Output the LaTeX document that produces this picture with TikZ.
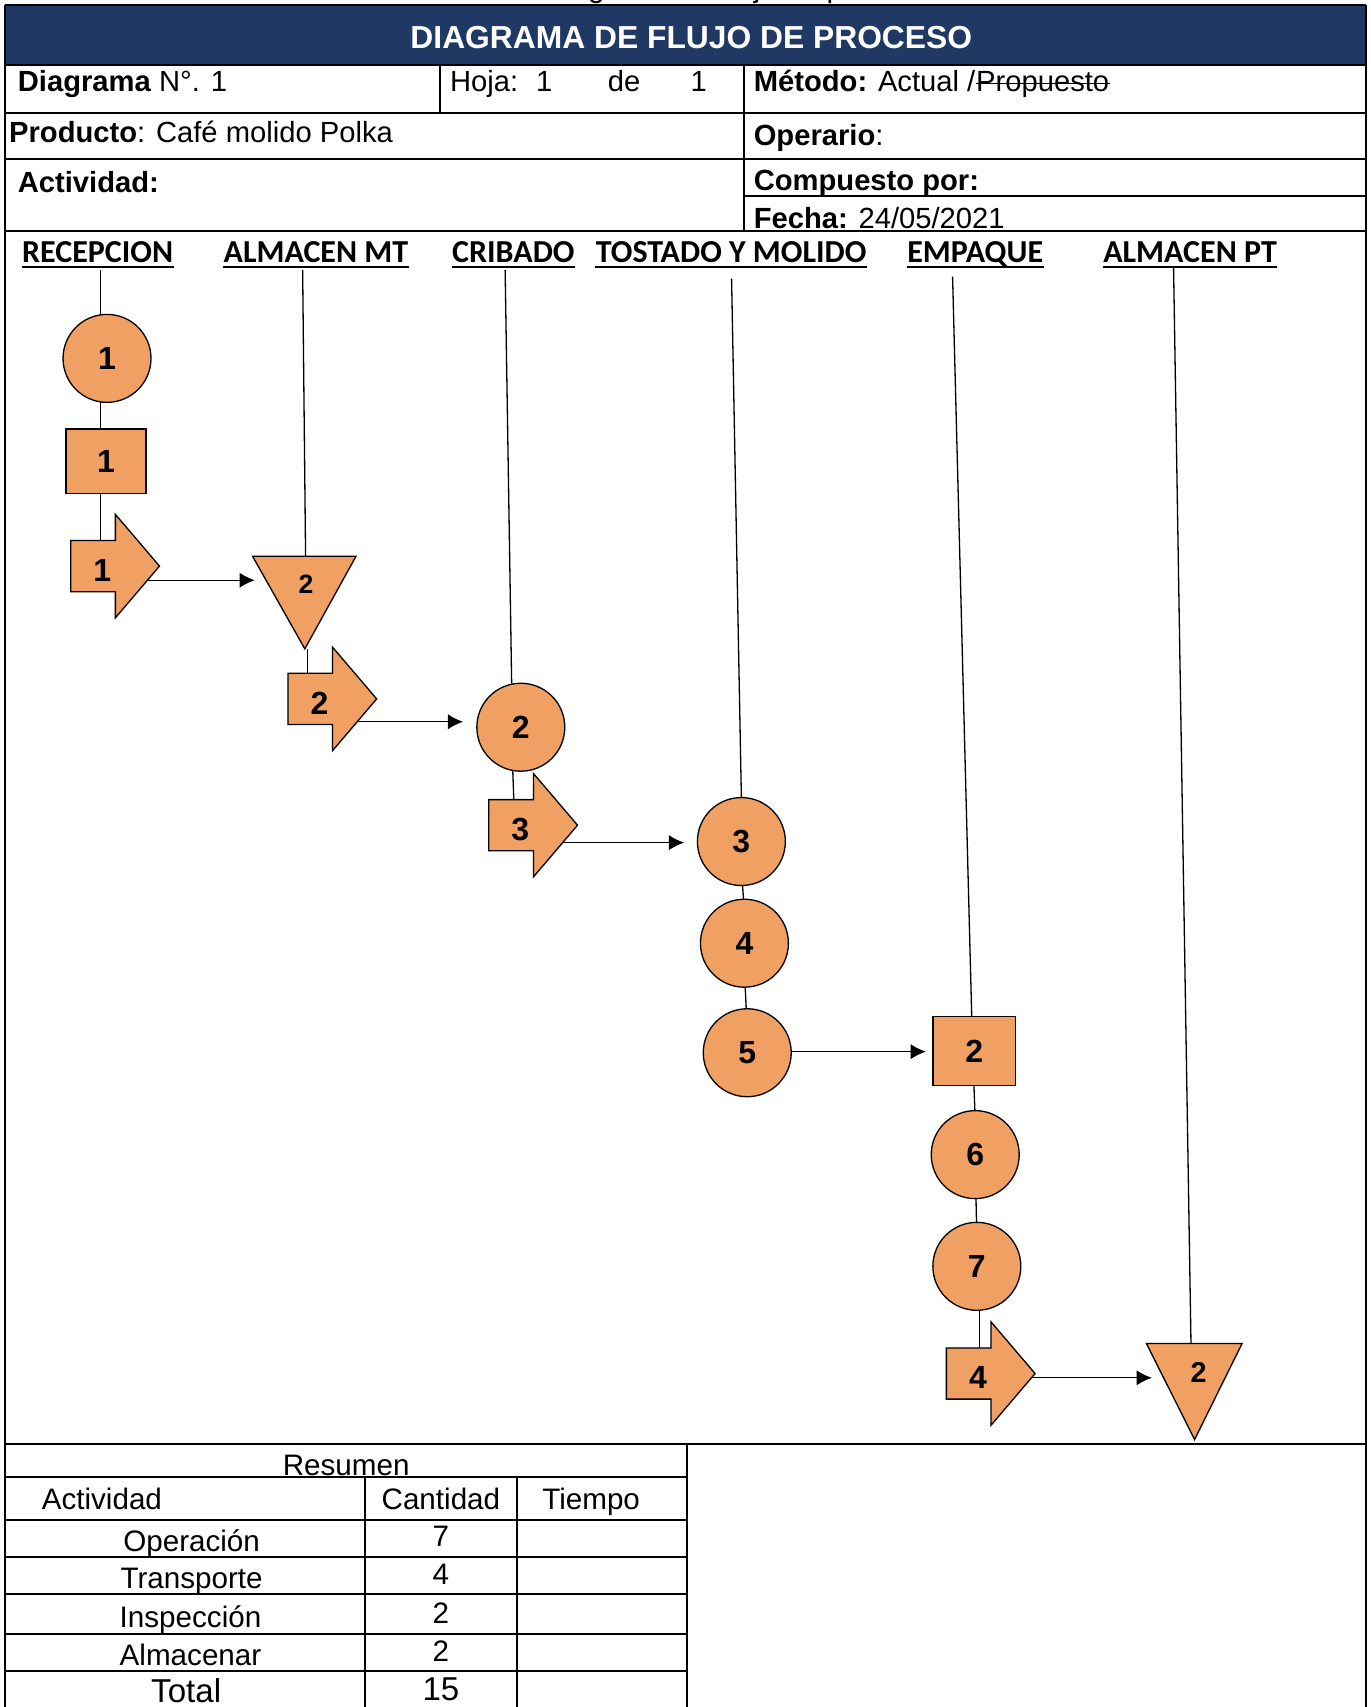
\documentclass[tikz,border=0pt]{standalone}
\usepackage{fontspec}
\setmainfont{Liberation Sans}
\newfontfamily\hdrfont{Carlito}
\usetikzlibrary{arrows.meta}
\definecolor{navyband}{HTML}{1F3864}
\definecolor{shapeorange}{HTML}{F1A063}
\newcommand{\blockarrowat}[5]{% name, left x, centre y, label, connector y
  \draw[shp] (#2,{#3-23.5}) -- ({#2+41},{#3-23.5}) -- ({#2+41},{#3-47.5}) -- ({#2+81.5},#3)
     -- ({#2+41},{#3+47.5}) -- ({#2+41},{#3+23.5}) -- (#2,{#3+23.5}) -- cycle;
  \node[lbl] (#1) at ({#2+29},{#3+4}) {#4};
  \coordinate (#1o) at ({#2+81.5-(#5-#3)*0.8526},#5);
}
\begin{document}
\begin{tikzpicture}[x=0.5pt,y=-0.5pt,
  frame/.style={line width=0.95pt},
  thinframe/.style={line width=0.8pt},
  lane/.style={line width=0.6pt},
  conn/.style={line width=0.6pt,-{Latex[length=7pt,width=7pt]}},
  shp/.style={draw=black,fill=shapeorange,line width=0.6pt},
  lbl/.style={inner sep=0pt,font=\fontsize{14.7}{16}\selectfont\bfseries},
  tlbl/.style={inner sep=0pt,font=\fontsize{12.2}{14}\selectfont\bfseries},
  circ/.style={shp,circle,minimum size=40.4pt,inner sep=0pt,font=\fontsize{14.7}{16}\selectfont\bfseries},
  sq/.style={shp,rectangle,inner sep=0pt,font=\fontsize{14.7}{16}\selectfont\bfseries},
  txt/.style={inner sep=0pt,anchor=base west,font=\fontsize{13.4}{16}\selectfont},
  hdr/.style={inner sep=0pt,anchor=base west,font=\hdrfont\fontsize{14.7}{17}\selectfont\bfseries},
  tab/.style={inner sep=0pt,anchor=base,font=\fontsize{13.6}{16}\selectfont},
  tabbig/.style={inner sep=0pt,anchor=base,font=\fontsize{15.2}{18}\selectfont}]
\useasboundingbox (0,0) rectangle (1259,1568);
\fill[white] (0,0) rectangle (1259,1568);
% cut-off caption above the form
\begin{scope}
\clip (0,0) rectangle (1259,1568);
\node[inner sep=0pt,anchor=base,font=\fontsize{13.7}{16}\selectfont] (caption) at (678,-2) {Diagrama de flujo de proceso};
\end{scope}
% title band
\fill[navyband] (4.6,5) rectangle (1255,60);
\node[inner sep=0pt,anchor=base,text=white,font=\fontsize{14.6}{17}\selectfont\bfseries] (title) at (635,45) {DIAGRAMA DE FLUJO DE PROCESO};
% form texts
\node[txt] (diag) at (16,84.5) {\textbf{Diagrama} N°. 1};
\node[txt] (hoja) at (413,84.5) {Hoja:};
\node[txt] (hoja1) at (492,84.5) {1};
\node[txt] (hojade) at (558,84.5) {de};
\node[txt] (hoja2) at (634,84.5) {1};
\node[txt] (metodo) at (692,84.5) {\textbf{Método:} Actual /};
\node[txt] (prop) at (metodo.base east) {Propuesto};
\draw[line width=0.55pt] ([yshift=3.9pt]prop.base west) -- ([yshift=3.9pt]prop.base east);
\node[txt] (producto) at (8,130.5) {\textbf{Producto}: Café molido Polka};
\node[txt] (operario) at (692,134) {\textbf{Operario}:};
\node[txt] (actividad) at (16,177) {\textbf{Actividad:}};
\node[txt] (compuesto) at (692,175) {\textbf{Compuesto por:}};
\node[txt] (fecha) at (692,209.5) {\textbf{Fecha:} 24/05/2021};
% lane headers
\node[hdr] (h1) at (20,241) {RECEPCION};
\node[hdr] (h2) at (205,241) {ALMACEN MT\ };
\node[hdr] (h3) at (415,241) {CRIBADO};
\node[hdr] (h4) at (547,241) {TOSTADO Y MOLIDO};
\node[hdr] (h5) at (833,241) {EMPAQUE};
\node[hdr] (h6) at (1013,241) {ALMACEN PT};
\foreach \h in {h1,h2,h3,h4,h5,h6}
  \draw[line width=0.9pt] ([yshift=-2.1pt]\h.base west) -- ([yshift=-2.1pt]\h.base east);
% lane lines (under the shapes)
\coordinate (l1t) at (92.5,248);
\coordinate (l2t) at (278,248);
\coordinate (l3t) at (464,248);
\coordinate (l4t) at (672,256);
\coordinate (l5t) at (875,254);
\coordinate (l6t) at (1078,246);
\draw[lane] (l1t) -- (92.5,496);
\draw[lane] (l2t) -- (280.7,511);
\draw[lane] (282.5,596) -- (282.5,618);
\draw[lane] (l3t) -- (470,628);
\draw[lane] (471,708) -- (472,735);
\draw[lane] (l4t) -- (681,733);
\draw[lane] (682,813) -- (683,826);
\draw[lane] (684.5,907) -- (685.5,927);
\draw[lane] (l5t) -- (892.6,934);
\draw[lane] (894.6,997) -- (895.5,1020);
\draw[lane] (896.5,1101) -- (897,1123);
\draw[lane] (900,1203) -- (900,1238);
\draw[lane] (l6t) -- (1094,1234);
% RECEPCION
\node[circ] (c1) at (98.3,329.2) {1};
\node[sq,minimum width=36.7pt,minimum height=29.5pt] (s1) at (97.3,423.5) {1};
\blockarrowat{a1}{65}{520}{1}{533}
% ALMACEN MT
\draw[shp] (232,511) -- (327,511) -- (280,596) -- cycle;
\node[tlbl] (t1) at (281,537) {2};
\blockarrowat{a2}{264.5}{642}{2}{663}
% CRIBADO
\node[circ] (c2) at (478.4,668) {2};
\blockarrowat{a3}{449}{758}{3}{774}
% TOSTADO Y MOLIDO
\node[circ] (c3) at (681,773) {3};
\node[circ] (c4) at (683.8,866.4) {4};
\node[circ] (c5) at (686.4,967) {5};
% EMPAQUE
\node[sq,minimum width=37.85pt,minimum height=31.85pt] (s2) at (894.9,965.5) {2};
\node[circ] (c6) at (895.8,1060.6) {6};
\node[circ] (c7) at (897.3,1163.2) {7};
\blockarrowat{a4}{869.3}{1261.7}{4}{1265.6}
% ALMACEN PT
\draw[shp] (1053,1234) -- (1141,1234) -- (1097.3,1322.3) -- cycle;
\node[tlbl,font=\fontsize{13.2}{15}\selectfont\bfseries] (t2) at (1101,1261) {2};
% connectors
\coordinate (t1in) at (234,533);
\coordinate (t2in) at (1058,1265.6);
\draw[conn] (a1o) -- (t1in);
\draw[conn,shorten >=6pt] (a2o) -- (c2.west |- a2o);
\draw[conn,shorten >=5.8pt] (a3o) -- (c3.west |- a3o);
\draw[conn,shorten >=3pt] (c5.east |- 0,966) -- (s2.west |- 0,966);
\draw[conn] (a4o) -- (t2in);
% frame lines
\draw[frame] (4.6,4.5) -- (1255,4.5);
\draw[frame] (4.6,4.5) -- (4.6,1568);
\draw[frame] (1255,4.5) -- (1255,1568);
\draw[frame] (4.6,60) -- (1255,60);
\draw[frame] (4.6,104) -- (1255,104);
\draw[frame] (4.6,146) -- (1255,146);
\draw[frame] (683,180) -- (1255,180);
\draw[frame] (4.6,212) -- (1255,212);
\draw[frame] (404,60) -- (404,104);
\draw[frame] (683,60) -- (683,212);
\draw[frame] (4.6,1326) -- (1255,1326);
% summary table
\draw[frame] (631,1326) -- (631,1568);
\foreach \yy in {1357,1396,1430,1464,1501,1535}
  \draw[thinframe] (4.6,\yy) -- (631,\yy);
\draw[thinframe] (335,1357) -- (335,1568);
\draw[thinframe] (475,1357) -- (475,1568);
\node[tab] (resumen) at (318,1355) {Resumen};
\node[tab,anchor=base west] (tact) at (38,1387) {Actividad};
\node[tab] (tcant) at (405,1387) {Cantidad};
\node[tab] (ttiempo) at (543,1387) {Tiempo};
\node[tab] (rop) at (176,1425) {Operación};
\node[tab] (nop) at (405,1421) {7};
\node[tab] (rtr) at (176,1459) {Transporte};
\node[tab] (ntr) at (405,1455) {4};
\node[tab] (rin) at (175,1495) {Inspección};
\node[tab] (nin) at (405,1491) {2};
\node[tab] (ral) at (175,1530) {Almacenar};
\node[tab] (nal) at (405,1526) {2};
\node[tabbig] (rtot) at (171,1564) {Total};
\node[tabbig] (ntot) at (405,1562) {15};
\end{tikzpicture}
\end{document}
